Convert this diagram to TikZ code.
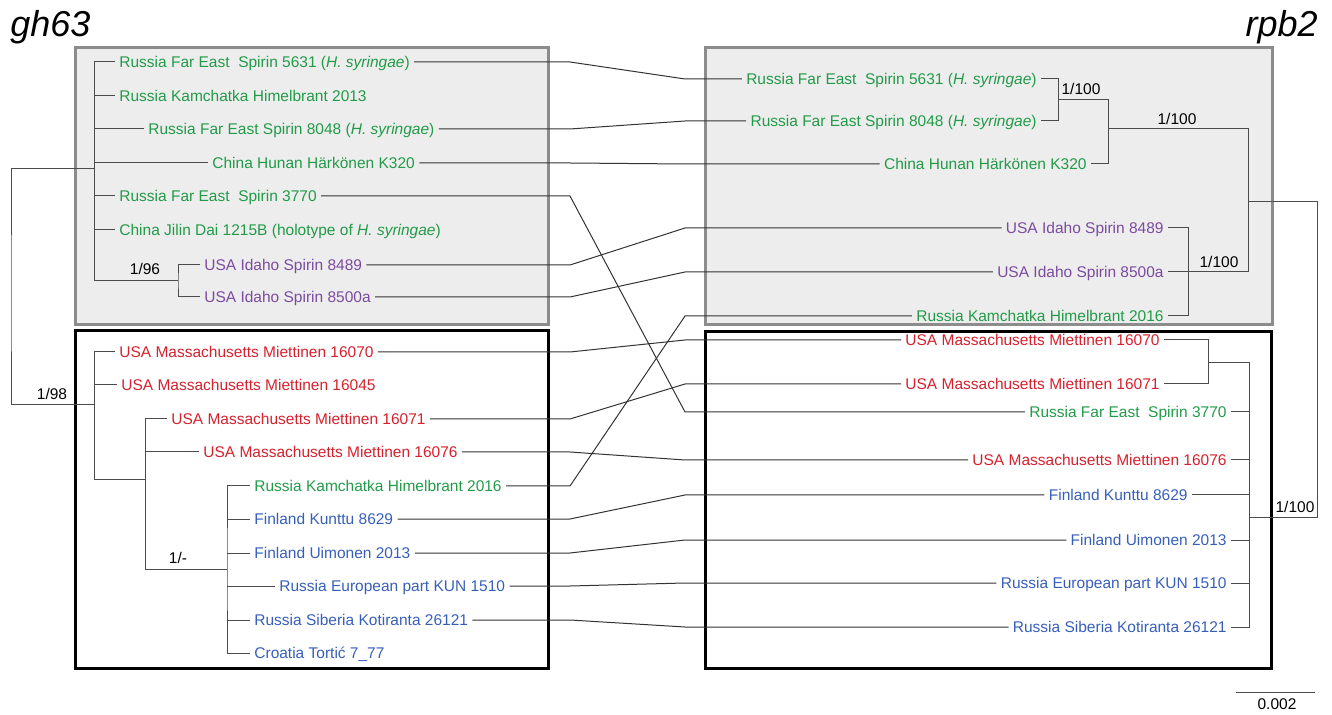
\documentclass[tikz,border=0pt]{standalone}
\usepackage{fontspec}
\setmainfont{Liberation Sans}
\definecolor{leafgreen}{RGB}{34,155,72}
\definecolor{leafred}{RGB}{213,33,45}
\definecolor{leafblue}{RGB}{55,95,185}
\definecolor{leafpurple}{RGB}{123,75,160}
\newcommand{\leaffont}{\fontsize{7.75}{9}\selectfont}
\newcommand{\Hs}{\textit{H. syringae}}

\begin{document}
\begin{tikzpicture}[
        x=0.5pt, y=-0.5pt,
        % --- styles ---
        % 1. leaves (left tree: text right of branch, right tree: text left of branch)
        leafl/.style={anchor=mid west, inner xsep=2pt, inner ysep=0pt, font=\leaffont},
        leafr/.style={anchor=mid east, inner xsep=2pt, inner ysep=0pt, font=\leaffont},
        % 2. tree lines and links between the two trees
        branch/.style={draw=black!70, line width=0.5pt},
        link/.style={draw=black!80, line width=0.5pt},
        % 3. support values
        support/.style={anchor=base, inner sep=0pt, font=\leaffont},
        % 4. gene names
        genetitle/.style={inner sep=0pt, font=\fontsize{18}{21}\selectfont\itshape},
        % 5. clade boxes
        shadebox/.style={draw=gray!90, fill=gray!14, line width=1.5pt},
        plainbox/.style={draw=black, line width=1.5pt}
    ]
    \useasboundingbox (0,0) rectangle (1332,715);

    % 1. Clade boxes
    \draw[shadebox] (75,48) rectangle (548,325);
    \draw[plainbox] (75,331) rectangle (548,668);
    \draw[shadebox] (705,48) rectangle (1272,325);
    \draw[plainbox] (705,332) rectangle (1271,668);

    % 2. Titles
    \node[genetitle, anchor=base west] (gh) at (10,37) {gh63};
    \node[genetitle, anchor=base east] (rpb) at (1318,37) {rpb2};

    % 3. Left tree (gh63) - leaves
    \node[leafl, leafgreen] (la1) at (115,62) {Russia Far East\ \ Spirin 5631 (\Hs)};
    \node[leafl, leafgreen] (la2) at (115,96) {Russia Kamchatka Himelbrant 2013};
    \node[leafl, leafgreen] (la3) at (144,129) {Russia Far East Spirin 8048 (\Hs)};
    \node[leafl, leafgreen] (la4) at (208,163) {China Hunan Härkönen K320};
    \node[leafl, leafgreen] (la5) at (115,196) {Russia Far East\ \ Spirin 3770};
    \node[leafl, leafgreen] (la6) at (115,230) {China Jilin Dai 1215B (holotype of \Hs)};
    \node[leafl, leafpurple] (la7) at (200,265) {USA Idaho Spirin 8489};
    \node[leafl, leafpurple] (la8) at (200,297) {USA Idaho Spirin 8500a};

    \node[leafl, leafred] (lb1) at (115,352) {USA Massachusetts Miettinen 16070};
    \node[leafl, leafred] (lb2) at (117,385) {USA Massachusetts Miettinen 16045};
    \node[leafl, leafred] (lb3) at (167,419) {USA Massachusetts Miettinen 16071};
    \node[leafl, leafred] (lb4) at (199,452) {USA Massachusetts Miettinen 16076};
    \node[leafl, leafgreen] (lb5) at (250,486) {Russia Kamchatka Himelbrant 2016};
    \node[leafl, leafblue] (lb6) at (250,519) {Finland Kunttu 8629};
    \node[leafl, leafblue] (lb7) at (250,553) {Finland Uimonen 2013};
    \node[leafl, leafblue] (lb8) at (275,586) {Russia European part KUN 1510};
    \node[leafl, leafblue] (lb9) at (250,620) {Russia Siberia Kotiranta 26121};
    \node[leafl, leafblue] (lb10) at (250,653) {Croatia Tortić 7\_77};

    % internal nodes of the left tree
    \coordinate (lroot) at (11,300);
    \coordinate (lA) at (94,169);
    \coordinate (lB) at (178,281);
    \coordinate (lC) at (94,405);
    \coordinate (lD) at (145,480);
    \coordinate (lE) at (227,569);

    \draw[branch] (lA) -| (lroot) |- (lC);
    \draw[branch] (la1.mid west) -| (lA |- lB) -- (lB);
    \foreach \n in {la2,la3,la4,la5,la6}
        \draw[branch] (lA |- \n.mid west) -- (\n.mid west);
    \draw[branch] (la7.mid west) -| (lB) |- (la8.mid west);

    \draw[branch] (lb1.mid west) -| (lC |- lD) -- (lD);
    \draw[branch] (lC |- lb2.mid west) -- (lb2.mid west);
    \draw[branch] (lb3.mid west) -| (lD |- lE) -- (lE);
    \draw[branch] (lD |- lb4.mid west) -- (lb4.mid west);
    \draw[branch] (lb5.mid west) -| (lE) |- (lb10.mid west);
    \foreach \n in {lb6,lb7,lb8,lb9}
        \draw[branch] (lE |- \n.mid west) -- (\n.mid west);

    \node[support] (s196) at (145,275) {1/96};
    \node[support] (s198) at (52,400) {1/98};
    \node[support] (s1m) at (178,563) {1/-};

    % 4. Right tree (rpb2) - leaves
    \node[leafr, leafgreen] (ra1) at (1041,79) {Russia Far East\ \ Spirin 5631 (\Hs)};
    \node[leafr, leafgreen] (ra2) at (1041,121) {Russia Far East Spirin 8048 (\Hs)};
    \node[leafr, leafgreen] (ra3) at (1091,164) {China Hunan Härkönen K320};
    \node[leafr, leafpurple] (ra4) at (1168,228) {USA Idaho Spirin 8489};
    \node[leafr, leafpurple] (ra5) at (1168,272) {USA Idaho Spirin 8500a};
    \node[leafr, leafgreen] (ra6) at (1168,316) {Russia Kamchatka Himelbrant 2016};

    \node[leafr, leafred] (rb1) at (1164,340) {USA Massachusetts Miettinen 16070};
    \node[leafr, leafred] (rb2) at (1164,384) {USA Massachusetts Miettinen 16071};
    \node[leafr, leafgreen] (rb3) at (1231,412) {Russia Far East\ \ Spirin 3770};
    \node[leafr, leafred] (rb4) at (1231,460) {USA Massachusetts Miettinen 16076};
    \node[leafr, leafblue] (rb5) at (1192,495) {Finland Kunttu 8629};
    \node[leafr, leafblue] (rb6) at (1231,540) {Finland Uimonen 2013};
    \node[leafr, leafblue] (rb7) at (1231,583) {Russia European part KUN 1510};
    \node[leafr, leafblue] (rb8) at (1231,627) {Russia Siberia Kotiranta 26121};

    % internal nodes of the right tree
    \coordinate (r1) at (1058,100);
    \coordinate (r2) at (1108,129);
    \coordinate (r3) at (1188,272);
    \coordinate (r4) at (1248,202);
    \coordinate (r5) at (1208,363);
    \coordinate (r6) at (1249,517);
    \coordinate (rroot) at (1317,360);

    \draw[branch] (ra1.mid east) -| (r1) |- (ra2.mid east);
    \draw[branch] (r1) -| (r2) |- (ra3.mid east);
    \draw[branch] (ra4.mid east) -| (r3) |- (ra6.mid east);
    \draw[branch] (ra5.mid east) -- (r3);
    \draw[branch] (r2) -| (r4);
    \draw[branch] (r3) -| (r4);
    \draw[branch] (r4) -| (rroot) |- (r6);

    \draw[branch] (rb1.mid east) -| (r5) |- (rb2.mid east);
    \draw[branch] (r5) -| (r6) |- (rb8.mid east);
    \foreach \n in {rb3,rb4,rb5,rb6,rb7}
        \draw[branch] (\n.mid east) -- (r6 |- \n.mid east);

    \node[support] (s2a) at (1081,95) {1/100};
    \node[support] (s2b) at (1177,125) {1/100};
    \node[support] (s2c) at (1219,268) {1/100};
    \node[support] (s2d) at (1295,512) {1/100};

    % 5. Links between the same specimen in both trees
    \coordinate (cutl) at (570,0);
    \coordinate (cutr) at (685,0);
    \foreach \a/\b in {la1/ra1, la3/ra2, la4/ra3, la5/rb3, la7/ra4, la8/ra5,
                       lb1/rb1, lb3/rb2, lb4/rb4, lb5/ra6, lb6/rb5, lb7/rb6,
                       lb8/rb7, lb9/rb8}
        \draw[link] (\a.mid east) -- (cutl |- \a.mid east)
                    -- (cutr |- \b.mid west) -- (\b.mid west);

    % 6. Scale bar
    \coordinate (barl) at (1236,692);
    \coordinate (barr) at (1315,692);
    \draw[branch] (barl) -- (barr);
    \node[support] (barlabel) at (1277,709) {0.002};

\end{tikzpicture}
\end{document}
